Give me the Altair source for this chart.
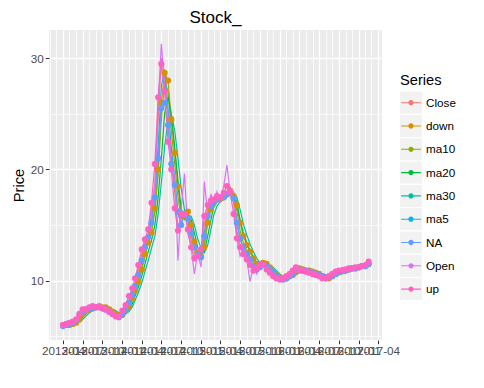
import altair as alt
import pandas as pd

series_names = ["Close", "down", "ma10", "ma20", "ma30", "ma5", "NA", "Open", "up"]
series_colors = ["#F8766D", "#D39200", "#93AA00", "#00BA38", "#00C19F",
                 "#00B9E3", "#619CFF", "#DB72FB", "#FF61C3"]
point_series = ["down", "NA", "up"]

# semi-monthly observation dates, 2013-04-01 .. 2017-02-16
dates = [f"{2013 + (3 + i // 2) // 12}-{(3 + i // 2) % 12 + 1:02d}-{1 if i % 2 == 0 else 16:02d}T00:00:00"
         for i in range(94)]

close = [6.0, 6.0, 6.1, 6.2, 6.3, 6.8, 7.3, 7.4, 7.5, 7.65,
         7.6, 7.7, 7.6, 7.5, 7.3, 7.1, 6.9, 6.8, 7.2, 7.6,
         8.3, 9.0, 9.8, 10.9, 12.3, 13.4, 14.1, 16.0, 18.8, 24.5,
         30.0, 28.5, 23.8, 21.0, 18.0, 14.8, 15.6, 16.3, 15.3, 13.6,
         12.5, 12.0, 12.3, 15.0, 16.5, 17.0, 17.2, 17.5, 17.4, 17.6,
         18.0, 18.4, 17.0, 14.5, 13.3, 12.7, 12.2, 11.8, 11.1, 11.0,
         11.3, 11.5, 11.2, 10.9, 10.6, 10.3, 10.2, 10.1, 10.3, 10.4,
         10.7, 11.1, 11.0, 10.9, 10.9, 10.8, 10.7, 10.6, 10.5, 10.3,
         10.2, 10.3, 10.5, 10.7, 10.8, 10.9, 10.9, 11.0, 11.1, 11.1,
         11.2, 11.3, 11.3, 11.6]
open_ = [5.9, 6.1, 6.0, 6.3, 6.5, 7.0, 7.2, 7.5, 7.4, 7.8,
         7.5, 7.8, 7.5, 7.6, 7.2, 7.0, 7.0, 6.7, 7.0, 7.5,
         8.0, 9.2, 9.5, 11.2, 12.0, 13.8, 13.6, 16.8, 18.0, 26.0,
         31.3, 27.5, 25.0, 19.8, 19.5, 11.8, 16.5, 19.6, 14.2, 13.0,
         10.6, 12.5, 11.2, 18.9, 16.0, 17.8, 16.8, 18.0, 17.0, 18.5,
         20.4, 17.8, 18.0, 13.8, 12.2, 13.0, 11.9, 9.9, 11.3, 10.6,
         11.6, 11.4, 11.5, 10.6, 10.8, 10.1, 10.4, 9.9, 10.5, 10.2,
         11.0, 11.3, 10.8, 11.1, 10.7, 11.0, 10.5, 10.8, 10.3, 10.4,
         10.0, 10.4, 10.3, 10.9, 10.6, 11.1, 10.8, 11.2, 10.9, 11.3,
         11.0, 11.5, 11.2, 11.9]
up = [6.0, 6.1, 6.2, 6.3, 6.5, 7.0, 7.4, 7.4, 7.6, 7.7,
      7.6, 7.7, 7.5, 7.4, 7.2, 7.0, 6.8, 6.8, 7.3, 7.8,
      8.6, 9.3, 10.2, 11.4, 12.8, 13.7, 14.6, 17.0, 20.5, 26.5,
      29.5, 27.0, 22.5, 20.0, 16.5, 14.5, 16.0, 16.0, 14.6, 13.0,
      12.0, 12.2, 12.8, 15.8, 16.8, 17.2, 17.3, 17.6, 17.5, 17.9,
      18.5, 18.0, 16.0, 13.8, 13.0, 12.4, 11.9, 11.4, 10.9, 11.1,
      11.5, 11.4, 11.0, 10.7, 10.4, 10.2, 10.1, 10.2, 10.4, 10.6,
      10.9, 11.2, 10.9, 10.9, 10.8, 10.7, 10.6, 10.5, 10.4, 10.2,
      10.2, 10.4, 10.6, 10.8, 10.9, 10.9, 11.0, 11.1, 11.1, 11.2,
      11.2, 11.3, 11.4, 11.7]
down = [6.0, 6.0, 6.0, 6.1, 6.2, 6.5, 7.0, 7.3, 7.4, 7.5,
        7.6, 7.6, 7.6, 7.6, 7.4, 7.2, 7.0, 6.9, 6.9, 7.3,
        7.7, 8.4, 9.1, 9.9, 11.0, 12.4, 13.4, 14.3, 16.5, 20.0,
        26.0, 28.7, 28.0, 24.5, 21.5, 18.5, 16.0, 15.8, 16.2, 15.0,
        13.5, 12.5, 12.2, 13.0, 15.2, 16.4, 17.0, 17.3, 17.4, 17.5,
        17.8, 18.1, 17.6, 16.8, 15.2, 14.0, 13.2, 12.6, 12.0, 11.5,
        11.4, 11.6, 11.5, 11.2, 10.8, 10.5, 10.3, 10.2, 10.2, 10.4,
        10.5, 10.8, 11.1, 11.0, 10.9, 10.9, 10.8, 10.7, 10.6, 10.4,
        10.3, 10.2, 10.4, 10.6, 10.8, 10.9, 10.9, 11.0, 11.1, 11.1,
        11.2, 11.3, 11.3, 11.5]
na_ = [5.9, 6.0, 6.1, 6.2, 6.4, 6.9, 7.2, 7.4, 7.5, 7.5,
       7.6, 7.6, 7.5, 7.4, 7.2, 7.0, 6.8, 6.7, 7.0, 7.4,
       8.0, 8.7, 9.5, 10.5, 11.8, 13.0, 13.9, 15.2, 17.5, 21.0,
       25.5, 26.0, 24.0, 20.5, 18.6, 16.2, 15.0, 15.9, 15.6, 14.3,
       13.0, 12.3, 12.1, 14.0, 15.8, 16.7, 17.1, 17.3, 17.5, 17.5,
       17.8, 18.0, 17.4, 15.2, 13.8, 13.0, 12.4, 11.9, 11.3, 11.0,
       11.2, 11.4, 11.3, 11.0, 10.7, 10.4, 10.2, 10.1, 10.2, 10.4,
       10.6, 11.0, 11.0, 10.9, 10.9, 10.8, 10.7, 10.6, 10.5, 10.4,
       10.2, 10.3, 10.4, 10.6, 10.8, 10.9, 10.9, 11.0, 11.1, 11.1,
       11.2, 11.3, 11.3, 11.5]
ma5 = [5.9, 6.0, 6.1, 6.2, 6.3, 6.6, 7.1, 7.4, 7.5, 7.6,
       7.6, 7.7, 7.6, 7.5, 7.4, 7.2, 7.0, 6.8, 7.0, 7.4,
       8.0, 8.7, 9.4, 10.4, 11.7, 13.0, 13.8, 15.2, 17.6, 22.0,
       27.5, 29.0, 25.5, 22.0, 19.2, 16.0, 15.2, 16.0, 15.7, 14.2,
       12.9, 12.2, 12.2, 14.2, 16.0, 16.8, 17.1, 17.4, 17.4, 17.5,
       17.8, 18.2, 17.5, 15.3, 13.8, 12.9, 12.4, 11.9, 11.4, 11.0,
       11.2, 11.4, 11.3, 11.0, 10.7, 10.4, 10.2, 10.1, 10.2, 10.4,
       10.6, 11.0, 11.0, 10.9, 10.9, 10.8, 10.7, 10.6, 10.5, 10.4,
       10.2, 10.3, 10.4, 10.6, 10.8, 10.9, 10.9, 11.0, 11.1, 11.1,
       11.2, 11.3, 11.3, 11.5]
ma10 = [5.9, 6.0, 6.0, 6.1, 6.2, 6.5, 6.9, 7.3, 7.4, 7.5,
        7.6, 7.6, 7.6, 7.6, 7.4, 7.3, 7.1, 6.9, 6.9, 7.2,
        7.7, 8.4, 9.0, 9.9, 11.0, 12.3, 13.4, 14.4, 16.2, 19.5,
        24.5, 28.0, 27.0, 23.5, 20.5, 17.5, 15.6, 15.8, 16.0, 14.9,
        13.4, 12.5, 12.2, 13.3, 15.4, 16.5, 17.0, 17.3, 17.4, 17.5,
        17.7, 18.1, 17.8, 16.3, 14.5, 13.4, 12.7, 12.2, 11.7, 11.2,
        11.1, 11.3, 11.4, 11.1, 10.8, 10.5, 10.3, 10.2, 10.2, 10.3,
        10.5, 10.8, 11.0, 11.0, 10.9, 10.9, 10.8, 10.7, 10.6, 10.4,
        10.3, 10.2, 10.4, 10.6, 10.7, 10.8, 10.9, 11.0, 11.0, 11.1,
        11.2, 11.2, 11.3, 11.4]
ma20 = [5.9, 5.9, 6.0, 6.1, 6.2, 6.4, 6.7, 7.0, 7.3, 7.4,
        7.5, 7.6, 7.6, 7.6, 7.5, 7.3, 7.2, 7.0, 6.9, 7.0,
        7.4, 7.9, 8.6, 9.4, 10.4, 11.5, 12.6, 13.6, 15.0, 17.5,
        21.0, 25.0, 26.5, 25.0, 22.0, 19.0, 16.5, 15.5, 15.9, 15.5,
        14.3, 13.0, 12.4, 12.6, 14.0, 15.5, 16.6, 17.1, 17.3, 17.4,
        17.6, 17.9, 17.9, 17.0, 15.5, 14.3, 13.4, 12.7, 12.1, 11.6,
        11.3, 11.2, 11.3, 11.3, 11.0, 10.7, 10.4, 10.3, 10.2, 10.3,
        10.4, 10.6, 10.9, 11.0, 11.0, 10.9, 10.8, 10.7, 10.6, 10.5,
        10.4, 10.3, 10.3, 10.5, 10.6, 10.7, 10.8, 10.9, 11.0, 11.0,
        11.1, 11.2, 11.2, 11.3]
ma30 = [5.9, 5.9, 6.0, 6.0, 6.1, 6.3, 6.5, 6.8, 7.1, 7.3,
        7.4, 7.5, 7.6, 7.6, 7.5, 7.4, 7.3, 7.1, 7.0, 7.0,
        7.2, 7.6, 8.2, 8.9, 9.8, 10.8, 11.8, 12.9, 14.0, 16.0,
        18.8, 22.0, 24.5, 25.0, 23.5, 21.0, 18.3, 16.4, 15.8, 15.8,
        15.0, 13.8, 12.9, 12.5, 13.2, 14.6, 15.9, 16.7, 17.1, 17.3,
        17.5, 17.7, 17.9, 17.5, 16.4, 15.1, 14.1, 13.3, 12.6, 12.0,
        11.6, 11.4, 11.3, 11.3, 11.2, 10.9, 10.6, 10.4, 10.3, 10.3,
        10.3, 10.5, 10.7, 10.9, 11.0, 11.0, 10.9, 10.8, 10.7, 10.6,
        10.5, 10.4, 10.3, 10.4, 10.5, 10.6, 10.7, 10.8, 10.9, 11.0,
        11.0, 11.1, 11.2, 11.2]

values_by_series = {"Close": close, "down": down, "ma10": ma10, "ma20": ma20,
                    "ma30": ma30, "ma5": ma5, "NA": na_, "Open": open_, "up": up}

rows = []
for k, name in enumerate(series_names):
    for d, v in zip(dates, values_by_series[name]):
        rows.append({"Date": d, "Price": v, "Series": name, "Key": name + " ", "order": k})
df = pd.DataFrame(rows)

grid_months = [alt.DateTime(year=2013 + (1 + j) // 12, month=(1 + j) % 12 + 1, date=1) for j in range(51)]
quarter_test = "month(datum.value) % 3 == 0"
FONT = "Liberation Sans"

x_enc = alt.X(
    "Date:T",
    title=None,
    scale=alt.Scale(domain=[alt.DateTime(year=2013, month=1, date=26),
                            alt.DateTime(year=2017, month=4, date=19)], nice=False),
    axis=alt.Axis(
        values=grid_months,
        labelExpr=f"{quarter_test} ? timeFormat(datum.value, '%Y-%m') : ''",
        labelOverlap=False, labelFlush=False,
        tickOpacity={"condition": {"test": quarter_test, "value": 1}, "value": 0},
        gridWidth={"condition": {"test": quarter_test, "value": 1.3}, "value": 0.8},
    ),
)
y_enc = alt.Y(
    "Price:Q",
    title="Price",
    scale=alt.Scale(domain=[4.65, 32.55], nice=False, zero=False),
    axis=alt.Axis(
        values=[5, 10, 15, 20, 25, 30],
        labelExpr="datum.value % 10 == 0 ? datum.label : ''",
        tickOpacity={"condition": {"test": "datum.value % 10 == 0", "value": 1}, "value": 0},
        gridWidth={"condition": {"test": "datum.value % 10 == 0", "value": 1.3}, "value": 0.7},
    ),
)
legend_common = dict(
    title="Series", orient="none", legendX=351, legendY=43,
    symbolSize=484, symbolStrokeWidth=0, rowPadding=1.3, labelOffset=4,
    titleFontSize=14.7, titleFontWeight="normal", titleFont=FONT,
    labelFontSize=11.7, labelColor="black", labelFont=FONT, titlePadding=4,
    symbolOpacity=1,
)
legend = alt.Legend(
    symbolType=("M-1,-1L-1,-1M1,1L1,1"
                "M-0.9,-0.05L0.9,-0.05L0.9,0.05L-0.9,0.05Z"
                "M-0.24,0A0.24,0.24,0,1,1,0.24,0A0.24,0.24,0,1,1,-0.24,0Z"),
    titleColor="black", zindex=2, **legend_common,
)
key_legend = alt.Legend(
    symbolType="M-1,-1L1,-1L1,1L-1,1Z", symbolFillColor="#F2F2F2",
    titleColor="transparent", zindex=1, labelExpr="''", **legend_common,
)
color_enc = alt.Color("Series:N", scale=alt.Scale(domain=series_names, range=series_colors),
                      legend=legend)

lines = alt.Chart(df).mark_line(strokeWidth=1.2).encode(
    x=x_enc, y=y_enc, color=color_enc, detail="Series:N", order="Date:T"
)
points = alt.Chart(df).transform_filter(
    alt.FieldOneOfPredicate(field="Series", oneOf=point_series)
).mark_point(filled=True, size=38, opacity=1).encode(
    x=x_enc, y=y_enc, color=color_enc
)
keys = alt.Chart(df).transform_filter(
    alt.FieldEqualPredicate(field="Series", equal="Close")
).mark_point(filled=True, opacity=0, color="#F2F2F2").encode(
    x=x_enc, y=y_enc,
    shape=alt.Shape("Key:N", scale=alt.Scale(domain=[s + " " for s in series_names],
                                             range=["square"] * len(series_names)),
                    legend=key_legend),
)

chart = alt.layer(keys, lines, points).properties(
    width=333, height=310,
    title=alt.TitleParams("Stock_", fontSize=17, font=FONT, fontWeight="normal",
                          color="black", anchor="middle", offset=3),
    autosize=alt.AutoSizeParams(type="none"),
    padding={"left": 41, "top": 22, "right": 94, "bottom": 40},
).configure(background="white").configure_view(
    fill="#EBEBEB", stroke=None
).configure_axis(
    domain=False, gridColor="white", tickColor="#333333", tickSize=3.7,
    labelColor="#4D4D4D", labelFontSize=11.7, labelFont=FONT, labelPadding=2,
    titleFont=FONT, titleFontSize=14.7, titleFontWeight="normal", titleColor="black",
)

chart.save("out.html", embed_options={"renderer": "svg", "actions": False})
